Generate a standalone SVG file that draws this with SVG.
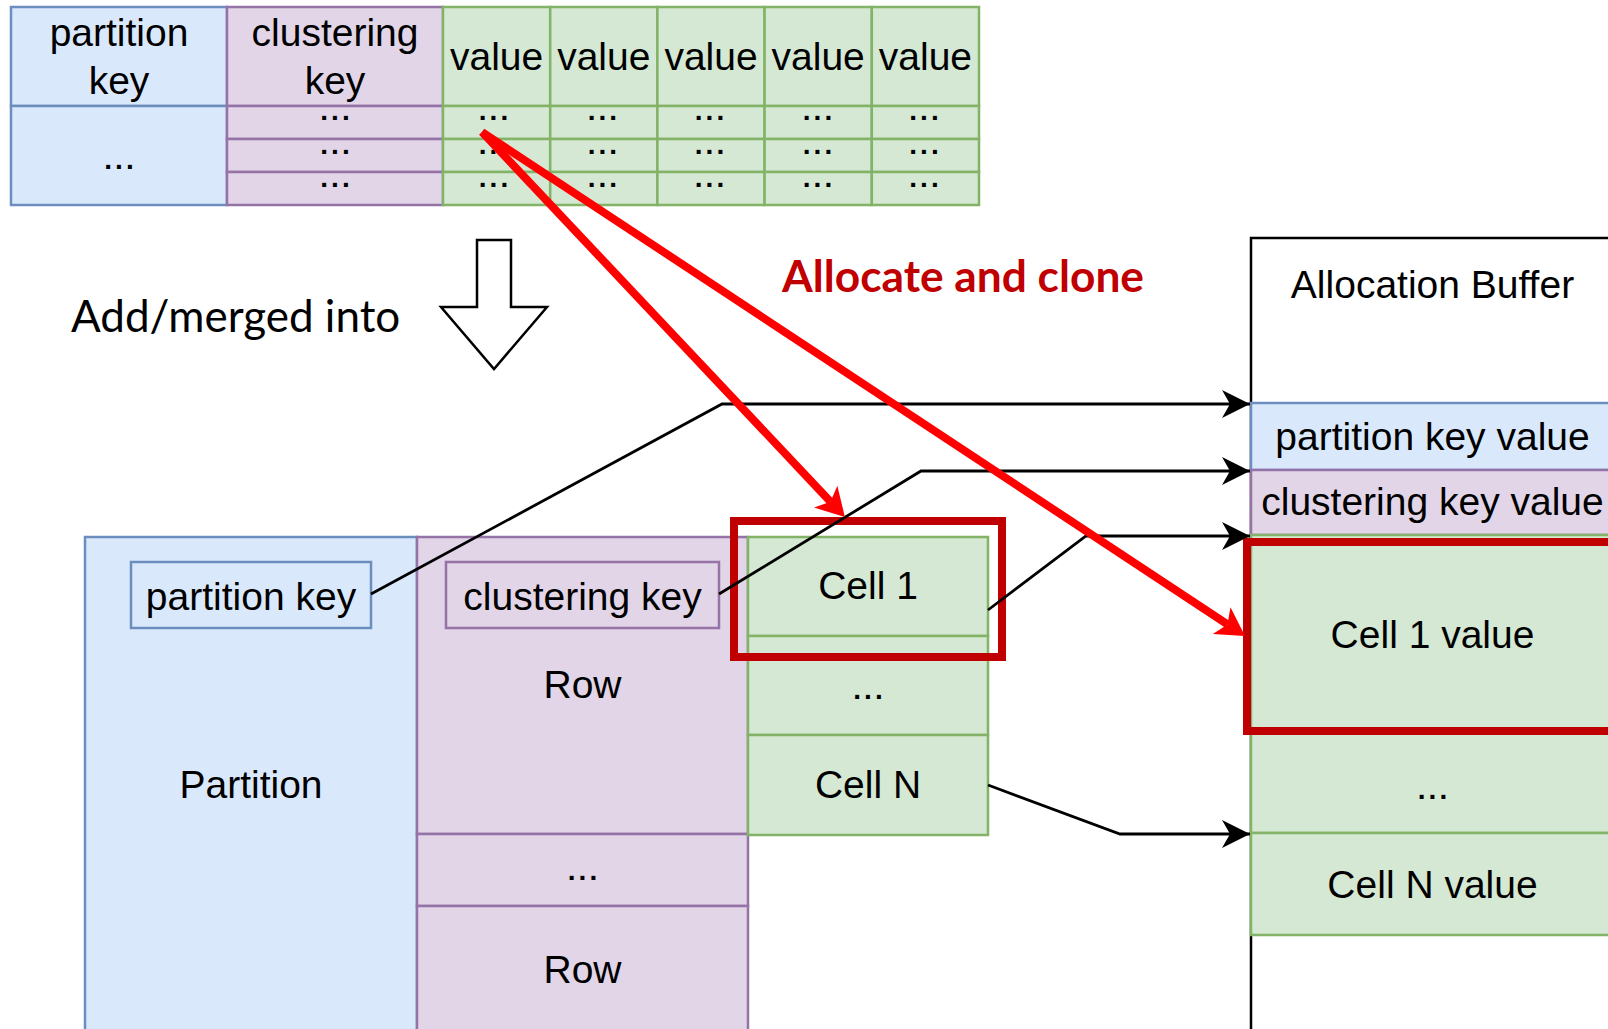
<svg xmlns="http://www.w3.org/2000/svg" width="1608" height="1029" viewBox="0 0 1608 1029">
  <style>
    .blue { fill: #dae8fc; stroke: #6c8ebf; stroke-width: 2.5; }
    .purple { fill: #e1d5e7; stroke: #9673a6; stroke-width: 2.5; }
    .green { fill: #d5e8d4; stroke: #82b366; stroke-width: 2.5; }
    .buffer { fill: #ffffff; stroke: #000000; stroke-width: 2.5; }
    .highlight { fill: none; stroke: #c00000; stroke-width: 8; }
    .t { font-family: "Liberation Sans", Arial, Helvetica, sans-serif; font-size: 39px; fill: #000000; text-anchor: middle; }
    .dots { font-family: "Liberation Sans", Arial, Helvetica, sans-serif; font-size: 28px; font-weight: bold; letter-spacing: 3px; fill: #000000; text-anchor: middle; }
    .note { font-family: Lato, "Open Sans", sans-serif; font-size: 44px; fill: #000000; }
    .note-red { font-family: Lato, "Open Sans", sans-serif; font-size: 44px; font-weight: bold; fill: #c00000; }
    .link { fill: none; stroke: #000000; stroke-width: 2.8; }
    .clone { fill: none; stroke: #ff0000; stroke-width: 8; stroke-linecap: butt; }
    .bigarrow { fill: #ffffff; stroke: #000000; stroke-width: 2.5; stroke-linejoin: miter; }
  </style>
  <defs>
    <marker id="arrow-black" markerUnits="userSpaceOnUse" markerWidth="1" markerHeight="1" refX="0" refY="0" orient="auto" overflow="visible">
      <path d="M-28,-14 L0,0 L-28,14 L-20,0 Z" fill="#000000"/>
    </marker>
    <marker id="arrow-red" markerUnits="userSpaceOnUse" markerWidth="1" markerHeight="1" refX="-21" refY="0" orient="auto" overflow="visible">
      <path d="M-28,-16 L0,0 L-28,16 L-21,0 Z" fill="#ff0000"/>
    </marker>
  </defs>

  <rect width="1608" height="1029" fill="#ffffff"/>

  <!-- source table: keys and value columns -->
  <g id="table">
    <g id="table-partition-key">
      <rect class="blue" x="11" y="7" width="216" height="99"/>
      <text class="t" x="119" y="46">partition</text>
      <text class="t" x="119" y="94">key</text>
      <rect class="blue" x="11" y="106" width="216" height="99"/>
      <text class="dots" x="120.5" y="169">...</text>
    </g>
    <g id="table-clustering-key">
      <rect class="purple" x="227" y="7" width="216" height="99"/>
      <text class="t" x="335" y="46">clustering</text>
      <text class="t" x="335" y="94">key</text>
      <rect class="purple" x="227" y="106" width="216" height="33"/>
      <rect class="purple" x="227" y="139" width="216" height="33"/>
      <rect class="purple" x="227" y="172" width="216" height="33"/>
      <text class="dots" x="336.5" y="120">...</text>
      <text class="dots" x="336.5" y="154">...</text>
      <text class="dots" x="336.5" y="187">...</text>
    </g>
    <g id="table-value-1">
      <rect class="green" x="443" y="7" width="107.2" height="99"/>
      <rect class="green" x="443" y="106" width="107.2" height="33"/>
      <rect class="green" x="443" y="139" width="107.2" height="33"/>
      <rect class="green" x="443" y="172" width="107.2" height="33"/>
      <text class="t" x="496.6" y="70">value</text>
      <text class="dots" x="495" y="120">...</text>
      <text class="dots" x="495" y="154">...</text>
      <text class="dots" x="495" y="187">...</text>
    </g>
    <g id="table-value-2">
      <rect class="green" x="550.2" y="7" width="107.2" height="99"/>
      <rect class="green" x="550.2" y="106" width="107.2" height="33"/>
      <rect class="green" x="550.2" y="139" width="107.2" height="33"/>
      <rect class="green" x="550.2" y="172" width="107.2" height="33"/>
      <text class="t" x="603.8" y="70">value</text>
      <text class="dots" x="603.8" y="120">...</text>
      <text class="dots" x="603.8" y="154">...</text>
      <text class="dots" x="603.8" y="187">...</text>
    </g>
    <g id="table-value-3">
      <rect class="green" x="657.4" y="7" width="107.2" height="99"/>
      <rect class="green" x="657.4" y="106" width="107.2" height="33"/>
      <rect class="green" x="657.4" y="139" width="107.2" height="33"/>
      <rect class="green" x="657.4" y="172" width="107.2" height="33"/>
      <text class="t" x="711" y="70">value</text>
      <text class="dots" x="711" y="120">...</text>
      <text class="dots" x="711" y="154">...</text>
      <text class="dots" x="711" y="187">...</text>
    </g>
    <g id="table-value-4">
      <rect class="green" x="764.6" y="7" width="107.2" height="99"/>
      <rect class="green" x="764.6" y="106" width="107.2" height="33"/>
      <rect class="green" x="764.6" y="139" width="107.2" height="33"/>
      <rect class="green" x="764.6" y="172" width="107.2" height="33"/>
      <text class="t" x="818.2" y="70">value</text>
      <text class="dots" x="819" y="120">...</text>
      <text class="dots" x="819" y="154">...</text>
      <text class="dots" x="819" y="187">...</text>
    </g>
    <g id="table-value-5">
      <rect class="green" x="871.8" y="7" width="107.2" height="99"/>
      <rect class="green" x="871.8" y="106" width="107.2" height="33"/>
      <rect class="green" x="871.8" y="139" width="107.2" height="33"/>
      <rect class="green" x="871.8" y="172" width="107.2" height="33"/>
      <text class="t" x="925.4" y="70">value</text>
      <text class="dots" x="925.5" y="120">...</text>
      <text class="dots" x="925.5" y="154">...</text>
      <text class="dots" x="925.5" y="187">...</text>
    </g>
  </g>

  <!-- merge step -->
  <g id="merge-label">
    <text class="note" x="71" y="332">Add/merged into</text>
  </g>
  <g id="merge-arrow">
    <polygon class="bigarrow" points="477,240 511,240 511,307 547,307 494,369 441,307 477,307"/>
  </g>
  <g id="clone-label">
    <text class="note-red" x="782" y="292" textLength="362" lengthAdjust="spacingAndGlyphs">Allocate and clone</text>
  </g>

  <!-- in-memory partition -->
  <g id="partition">
    <rect class="blue" x="85" y="537" width="332" height="520"/>
    <text class="t" x="251" y="798">Partition</text>
  </g>
  <g id="partition-key">
    <rect class="blue" x="131" y="562" width="240" height="66"/>
    <text class="t" x="251" y="610">partition key</text>
  </g>
  <g id="row-1">
    <rect class="purple" x="417" y="537" width="331" height="297"/>
    <text class="t" x="582.5" y="698">Row</text>
  </g>
  <g id="clustering-key">
    <rect class="purple" x="446" y="562" width="273" height="66"/>
    <text class="t" x="582.5" y="610">clustering key</text>
  </g>
  <g id="row-more">
    <rect class="purple" x="417" y="834" width="331" height="72"/>
    <text class="dots" x="584" y="880">...</text>
  </g>
  <g id="row-2">
    <rect class="purple" x="417" y="906" width="331" height="150"/>
    <text class="t" x="582.5" y="983">Row</text>
  </g>
  <g id="cell-1">
    <rect class="green" x="748" y="537" width="240" height="99"/>
    <text class="t" x="868" y="599">Cell 1</text>
  </g>
  <g id="cell-more">
    <rect class="green" x="748" y="636" width="240" height="99"/>
    <text class="dots" x="869.5" y="699">...</text>
  </g>
  <g id="cell-n">
    <rect class="green" x="748" y="735" width="240" height="100"/>
    <text class="t" x="868" y="798">Cell N</text>
  </g>
  <g id="cell-1-highlight">
    <rect class="highlight" x="734" y="521" width="268" height="136"/>
  </g>

  <!-- allocation buffer -->
  <g id="allocation-buffer">
    <rect class="buffer" x="1251" y="238" width="363" height="820"/>
    <text class="t" x="1432.5" y="298">Allocation Buffer</text>
  </g>
  <g id="partition-key-value">
    <rect class="blue" x="1251" y="403" width="363" height="67"/>
    <text class="t" x="1432.5" y="450">partition key value</text>
  </g>
  <g id="clustering-key-value">
    <rect class="purple" x="1251" y="470" width="363" height="65"/>
    <text class="t" x="1432.5" y="515">clustering key value</text>
  </g>
  <g id="cell-1-value">
    <rect class="green" x="1251" y="535" width="363" height="198"/>
    <text class="t" x="1432.5" y="648">Cell 1 value</text>
  </g>
  <g id="cell-more-value">
    <rect class="green" x="1251" y="733" width="363" height="100"/>
    <text class="dots" x="1434" y="799">...</text>
  </g>
  <g id="cell-n-value">
    <rect class="green" x="1251" y="833" width="363" height="102"/>
    <text class="t" x="1432.5" y="898">Cell N value</text>
  </g>
  <g id="cell-1-value-highlight">
    <rect class="highlight" x="1247" y="542" width="400" height="189"/>
  </g>

  <!-- connectors -->
  <g id="connectors">
    <path class="link" d="M371,594 L722,404 L1250,404" marker-end="url(#arrow-black)"/>
    <path class="link" d="M719,594 L921,471 L1250,471" marker-end="url(#arrow-black)"/>
    <path class="link" d="M988,610 L1086,536 L1250,536" marker-end="url(#arrow-black)"/>
    <path class="link" d="M988,785 L1120,834 L1250,834" marker-end="url(#arrow-black)"/>
    <path class="clone" d="M482,132 L830.5,501.7" marker-end="url(#arrow-red)"/>
    <path class="clone" d="M482,132 L1227.5,624.4" marker-end="url(#arrow-red)"/>
  </g>
</svg>
